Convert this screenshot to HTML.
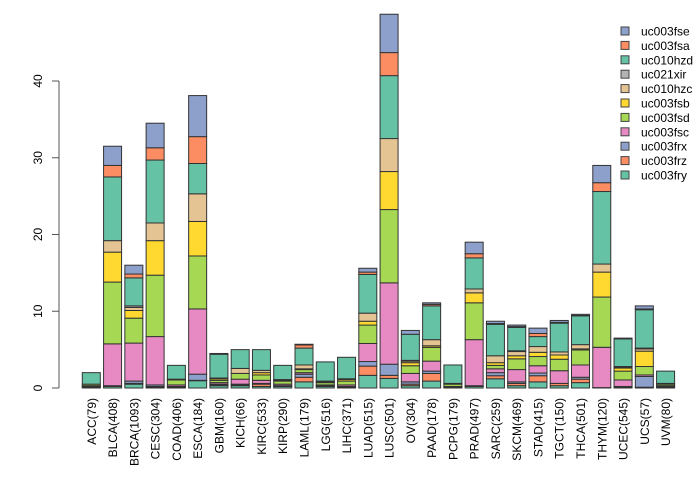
<!DOCTYPE html>
<html><head><meta charset="utf-8"><style>
html,body{margin:0;padding:0;background:#fff}
svg{display:block}
text{font-family:"Liberation Sans",Arial,sans-serif;font-size:12px;fill:#000}
</style></head><body>
<svg id="chart" width="700" height="480" viewBox="0 0 700 480" xmlns="http://www.w3.org/2000/svg">
<g id="bars"></g>
<g id="axis"></g>
<g id="xlabels"></g>
<g id="legend"></g>
</svg>
<script>
const categories = ["ACC(79)","BLCA(408)","BRCA(1093)","CESC(304)","COAD(406)","ESCA(184)","GBM(160)","KICH(66)","KIRC(533)","KIRP(290)","LAML(179)","LGG(516)","LIHC(371)","LUAD(515)","LUSC(501)","OV(304)","PAAD(178)","PCPG(179)","PRAD(497)","SARC(259)","SKCM(469)","STAD(415)","TGCT(150)","THCA(501)","THYM(120)","UCEC(545)","UCS(57)","UVM(80)"];
const seriesNames = ["uc003fry","uc003frz","uc003frx","uc003fsc","uc003fsd","uc003fsb","uc010hzc","uc021xir","uc010hzd","uc003fsa","uc003fse"];
const fry = [.1,.2,.5,.1,.1,.95,.3,.3,.2,.2,.8,.2,.1,1.65,1.25,.3,.9,.1,.2,1.2,.3,.8,.3,.7,.05,.1,.1,.1];
const frz = [.1,0,.1,.1,.1,.05,.1,.1,.3,.1,.6,.1,.1,1.2,.4,.2,1.0,0,0,.4,.3,.8,.3,.45,0,.1,0,.1];
const frx = [0,.1,.3,.2,0,.8,.1,.1,.1,0,.4,0,0,.6,1.45,.3,.3,0,.1,.4,.2,.35,0,.25,0,0,1.4,0];
const fsc = [.1,5.45,4.95,6.3,.2,8.5,.2,.65,.4,.2,.2,.1,.2,2.35,10.6,1.1,1.3,.1,6.0,.5,1.6,.95,1.65,1.6,5.25,.85,.2,.1];
const fsd = [.2,8.05,3.25,8.0,.65,6.9,.3,.75,.7,.4,.4,.3,.5,2.4,9.55,1.0,1.8,.3,4.8,.45,1.4,1.2,1.5,1.95,6.55,1.15,1.1,.2];
const fsb = [0,3.9,1.0,4.5,.1,4.5,.2,0,.3,.1,.1,.1,.2,.5,4.95,.4,.2,.1,1.3,.35,.4,.55,.55,.15,3.25,.4,2.0,.1];
const hzc = [0,1.5,.4,2.3,0,3.6,.1,.65,.3,.1,.5,.1,.1,1.05,4.3,.2,.8,0,.5,.9,.55,.75,.4,.55,1.05,.1,.3,0];
const xir = [0,0,.2,0,0,0,0,0,0,0,0,0,0,0,0,.1,0,0,0,0,.1,0,0,0,0,.1,.1,0];
const hzd = [1.5,8.3,3.65,8.2,1.8,3.95,3.1,2.45,2.7,1.85,2.2,2.5,2.8,5.05,8.2,3.4,4.4,2.4,4.05,4.1,3.05,1.3,3.75,3.75,9.45,3.6,5.0,1.6];
const fsa = [0,1.5,.5,1.6,0,3.5,0,0,0,0,.4,0,0,.3,3.0,0,.2,0,.55,.1,.1,.4,.1,.05,1.15,0,.1,0];
const fse = [0,2.5,1.15,3.2,0,5.35,.1,0,0,0,.1,0,0,.5,5.0,.5,.2,0,1.5,.3,.2,.7,.25,.15,2.25,.1,.4,0];
const yTicks = [0,10,20,30,40];

const series = [fry,frz,frx,fsc,fsd,fsb,hzc,xir,hzd,fsa,fse];
const colors = ["#66C2A5","#FC8D62","#8DA0CB","#E78AC3","#A6D854","#FFD92F","#E5C494","#B3B3B3","#66C2A5","#FC8D62","#8DA0CB"];
const NS = "http://www.w3.org/2000/svg";
const y0 = 388, pxPerUnit = 7.675;
function yScale(v){ return y0 - v * pxPerUnit; }
function xCenter(i){ return 91.3 + i * 21.27; }
const barW = 18;

const gB = document.getElementById('bars');
categories.forEach((c, i) => {
  let cum = 0;
  series.forEach((s, k) => {
    const v = s[i];
    const r = document.createElementNS(NS, 'rect');
    r.setAttribute('x', (xCenter(i) - barW / 2).toFixed(2));
    r.setAttribute('y', yScale(cum + v).toFixed(2));
    r.setAttribute('width', barW);
    r.setAttribute('height', Math.max(0, yScale(cum) - yScale(cum + v)).toFixed(2));
    r.setAttribute('fill', colors[k]);
    r.setAttribute('stroke', '#333');
    r.setAttribute('stroke-width', '1');
    
    
    gB.appendChild(r);
    cum += v;
  });
});

const gA = document.getElementById('axis');
const axl = document.createElementNS(NS, 'line');
axl.setAttribute('x1', 59); axl.setAttribute('x2', 59);
axl.setAttribute('y1', yScale(yTicks[yTicks.length - 1])); axl.setAttribute('y2', yScale(yTicks[0]));
axl.setAttribute('stroke', '#555');


gA.appendChild(axl);
yTicks.forEach(t => {
  const y = yScale(t);
  const l = document.createElementNS(NS, 'line');
  l.setAttribute('x1', 52); l.setAttribute('x2', 59);
  l.setAttribute('y1', y); l.setAttribute('y2', y);
  l.setAttribute('stroke', '#555');
  
  
  gA.appendChild(l);
  const tx = document.createElementNS(NS, 'text');
  tx.setAttribute('transform', `translate(42,${y}) rotate(-90)`);
  tx.setAttribute('text-anchor', 'middle');
  tx.textContent = t;
  
  
  gA.appendChild(tx);
});

const gX = document.getElementById('xlabels');
categories.forEach((c, i) => {
  const tx = document.createElementNS(NS, 'text');
  tx.setAttribute('transform', `translate(${(xCenter(i) + 4.5).toFixed(2)},398) rotate(-90)`);
  tx.setAttribute('text-anchor', 'end');
  tx.textContent = c;
  
  
  gX.appendChild(tx);
});

const gL = document.getElementById('legend');
for (let k = series.length - 1, j = 0; k >= 0; k--, j++) {
  const y = 31 + j * 14.4;
  const r = document.createElementNS(NS, 'rect');
  r.setAttribute('x', 621); r.setAttribute('y', y - 4);
  r.setAttribute('width', 8); r.setAttribute('height', 8);
  r.setAttribute('fill', colors[k]); r.setAttribute('stroke', '#444');
  
  
  gL.appendChild(r);
  const tx = document.createElementNS(NS, 'text');
  tx.setAttribute('x', 641); tx.setAttribute('y', y + 4.5);
  tx.textContent = seriesNames[k];
  
  
  gL.appendChild(tx);
}
</script>
</body></html>
